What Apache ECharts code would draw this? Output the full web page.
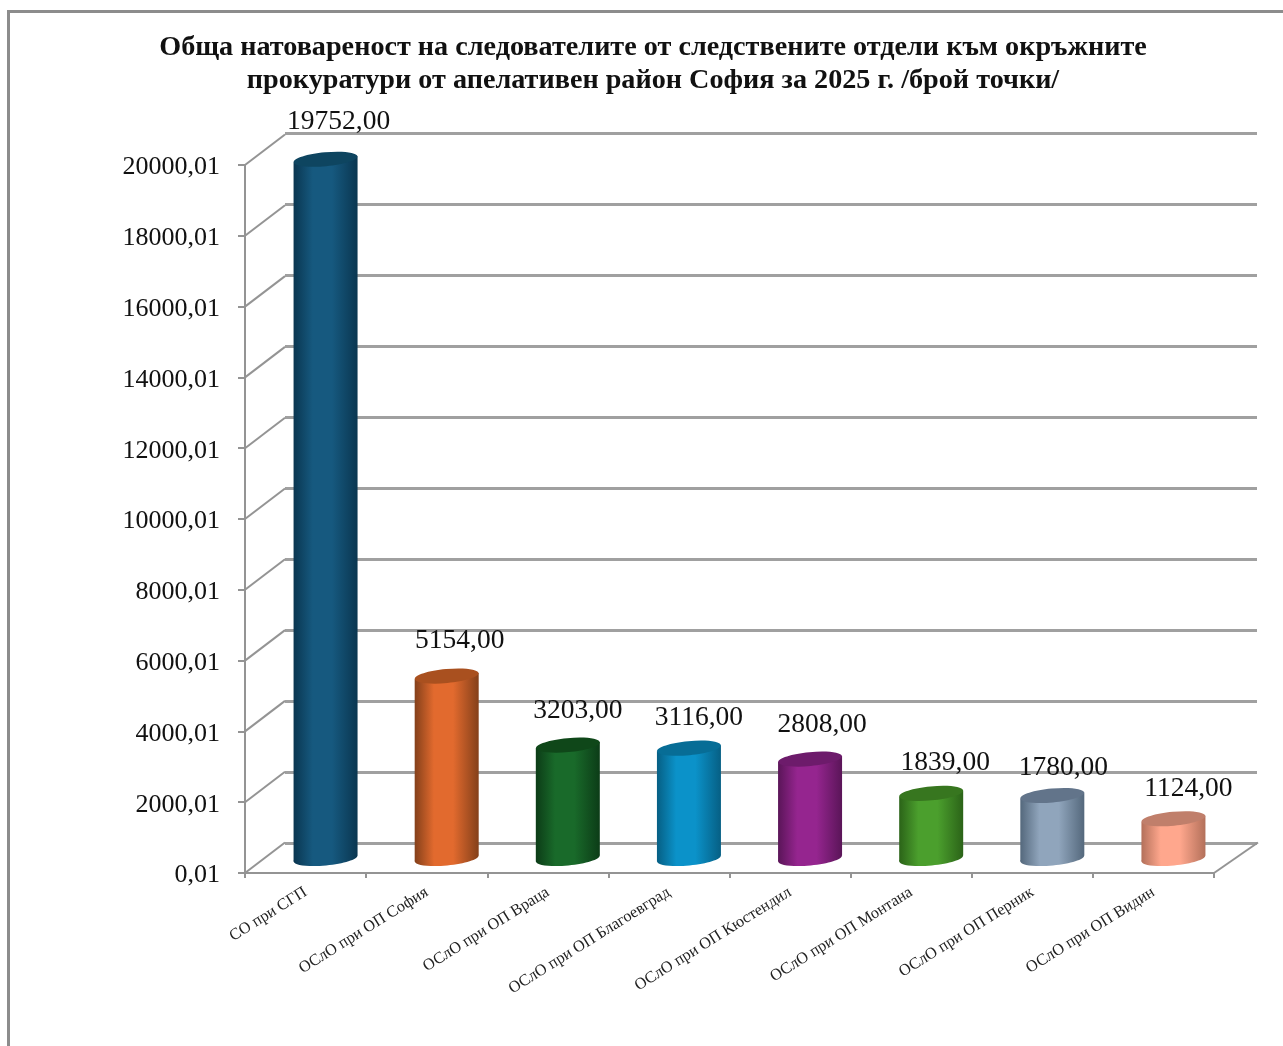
<!DOCTYPE html>
<html><head><meta charset="utf-8">
<style>html,body{margin:0;padding:0;background:#fff;overflow:hidden}#c{width:1283px;height:1046px}</style>
<script src="https://cdn.jsdelivr.net/npm/echarts@6/dist/echarts.min.js"></script>
</head><body><div id="c"></div>
<script>
const titleText = 'Обща натовареност на следователите от следствените отдели към окръжните\nпрокуратури от апелативен район София за 2025 г. /брой точки/';
const categories = ['СО при СГП','ОСлО при ОП София','ОСлО при ОП Враца','ОСлО при ОП Благоевград','ОСлО при ОП Кюстендил','ОСлО при ОП Монтана','ОСлО при ОП Перник','ОСлО при ОП Видин'];
const values = [19752,5154,3203,3116,2808,1839,1780,1124];
const axisTicks = [0,2000,4000,6000,8000,10000,12000,14000,16000,18000,20000];
const edgeColors = ['#0a3650','#84401a','#0c3c17','#065f84','#5a1558','#2b6318','#54687c','#b3705a'];
const midColors = ['#16597f','#e26a2e','#196a2a','#0b92c9','#95258f','#4b9f2d','#90a5bc','#ffa78d'];
const topColors = ['#0e4560','#a9501f','#0f4719','#076d96','#6d1b6b','#37761f','#62748a','#c07f6b'];

const FONT = '"Liberation Serif","Times New Roman",serif';
const GRAY = '#949494';
const DX = 40, DY = -30.5, RDX = 44;
const BAR_DX = 20, BAR_DY = -14.5, RX = 32, RY = 7, TILT = 3;
const labelNudgeX = [1,1,-2,-2,0,2,-1,3];
const labelNudgeY = [-4,-2,-1,3,-1,2,5,3];
const chart = echarts.init(document.getElementById('c'), null, {renderer:'canvas'});

function cylinder(params, api){
  const i = api.value(0), v = api.value(1);
  const top = api.coord([i, v]), base = api.coord([i, 0]);
  const cx = base[0] + BAR_DX, by = base[1] + BAR_DY, ty = top[1] + BAR_DY;
  const rot = Math.atan2(TILT, RX);
  const fill = {type:'linear',x:0,y:0,x2:1,y2:0,colorStops:[
    {offset:0,color:edgeColors[i]},{offset:0.3,color:midColors[i]},
    {offset:0.6,color:midColors[i]},{offset:1,color:edgeColors[i]}]};
  return {type:'group',children:[
    {type:'ellipse',shape:{cx:cx,cy:by,rx:RX,ry:RY},rotation:rot,originX:cx,originY:by,style:{fill:fill}},
    {type:'polygon',shape:{points:[[cx-RX,ty+TILT],[cx+RX,ty-TILT],[cx+RX,by-TILT],[cx-RX,by+TILT]]},style:{fill:fill}},
    {type:'ellipse',shape:{cx:cx,cy:ty,rx:RX,ry:RY},rotation:rot,originX:cx,originY:ty,style:{fill:topColors[i]}},
    {type:'text',style:{x:cx+12+labelNudgeX[i],y:ty-33+labelNudgeY[i],text:v.toFixed(2).replace('.',','),fill:'#111',font:'27.5px '+FONT,align:'center',verticalAlign:'middle'}}
  ]};
}
function diagonal(params, api){
  const v = api.value(0);
  const p = api.coord([0, v]);
  const half = api.size([1,0])[0]/2;
  const children = [{type:'line',shape:{x1:p[0]-half,y1:p[1],x2:p[0]-half+DX,y2:p[1]+DY},style:{stroke:GRAY,lineWidth:2}}];
  if (v === 0) {
    const q = api.coord([categories.length-1, 0]);
    children.push({type:'line',shape:{x1:q[0]+half,y1:q[1],x2:q[0]+half+RDX,y2:q[1]+DY},style:{stroke:GRAY,lineWidth:2}});
  }
  return {type:'group',children:children};
}

chart.setOption({
  animation:false,
  backgroundColor:'#fff',
  graphic:[{type:'rect',left:7,top:10,z:-1,shape:{width:1500,height:1300},style:{fill:'#fff',stroke:'#8c8c8c',lineWidth:3}}],
  title:{text:titleText,left:648,top:26,textAlign:'center',textStyle:{fontFamily:FONT,fontWeight:'bold',fontSize:28.2,lineHeight:33,color:'#111'}},
  grid:[
    {left:245,right:69,top:165,bottom:173},
    {left:285,right:26,top:133,bottom:203}
  ],
  xAxis:[
    {type:'category',gridIndex:0,data:categories,
     axisLine:{lineStyle:{color:GRAY,width:2}},
     axisTick:{show:true,length:5,alignWithLabel:false,lineStyle:{color:GRAY,width:2}},
     axisLabel:{interval:0,rotate:32,margin:18,fontFamily:FONT,fontSize:16.2,color:'#222'}},
    {type:'category',gridIndex:1,data:categories,show:false}
  ],
  yAxis:[
    {type:'value',gridIndex:0,min:0,max:20000,interval:2000,
     axisLine:{show:true,lineStyle:{color:GRAY,width:2}},
     axisTick:{show:true,length:7,lineStyle:{color:GRAY,width:2}},
     splitLine:{show:false},
     axisLabel:{margin:25,verticalAlign:'top',lineHeight:5,fontFamily:FONT,fontSize:26,color:'#111',formatter:v=>v+',01'}},
    {type:'value',gridIndex:1,min:0,max:20000,interval:2000,
     axisLine:{show:false},axisTick:{show:false},axisLabel:{show:false},
     splitLine:{show:true,lineStyle:{color:'#a0a0a0',width:3}}}
  ],
  series:[
    {type:'custom',xAxisIndex:0,yAxisIndex:0,z:1,silent:true,renderItem:diagonal,encode:{y:0},data:axisTicks.map(v=>[v])},
    {type:'custom',xAxisIndex:0,yAxisIndex:0,z:3,silent:true,renderItem:cylinder,encode:{x:0,y:1},data:values.map((v,i)=>[i,v])}
  ]
});
</script></body></html>
